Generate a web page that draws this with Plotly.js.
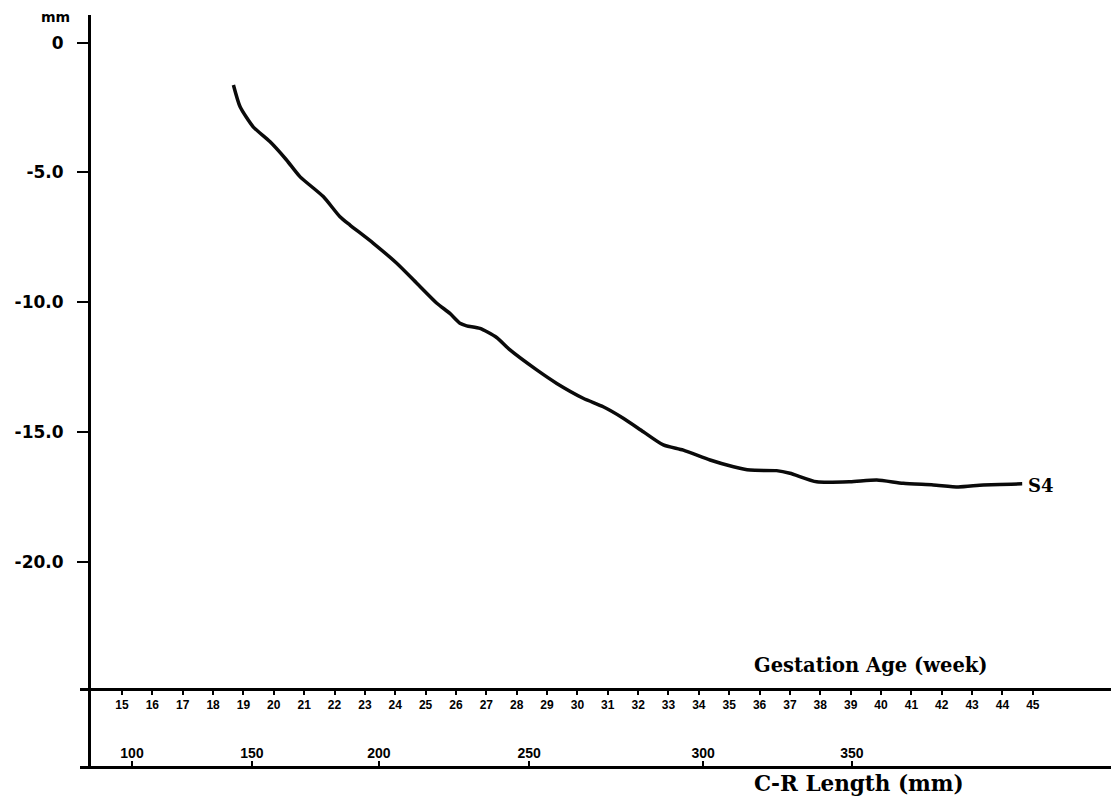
<!DOCTYPE html>
<html>
<head>
<meta charset="utf-8">
<script src="https://cdn.plot.ly/plotly-3.0.1.min.js"></script>
<style>html,body{margin:0;padding:0;background:#fff;}#chart{width:1111px;height:801px;}</style>
</head>
<body>
<div id="chart"></div>
<script>
// Gestation age (weeks) and S4 values (mm)
const weeks = [18.67, 18.89, 19.32, 19.87, 20.42, 20.86, 21.63, 22.18, 22.51, 23.28,
  24.05, 24.71, 25.37, 25.80, 26.13, 26.35, 26.79, 27.34, 27.78, 28.66,
  29.32, 30.19, 30.85, 31.51, 32.17, 32.83, 33.49, 34.37, 35.14, 35.69,
  36.56, 37.00, 37.88, 38.98, 39.86, 40.73, 41.72, 42.55, 43.37, 44.65];
const s4Values = [-1.63, -2.47, -3.24, -3.81, -4.52, -5.16, -5.93, -6.71, -7.03, -7.73,
  -8.50, -9.27, -10.04, -10.43, -10.81, -10.91, -11.01, -11.36, -11.84, -12.61,
  -13.13, -13.70, -14.03, -14.47, -14.99, -15.50, -15.70, -16.08, -16.34, -16.47,
  -16.49, -16.59, -16.92, -16.92, -16.85, -16.98, -17.04, -17.12, -17.04, -17.00];
const seriesName = "S4";

// Axis ticks
const weekTicks = [15,16,17,18,19,20,21,22,23,24,25,26,27,28,29,30,31,32,33,34,35,36,37,38,39,40,41,42,43,44,45];
const weekTickLabels = weekTicks.map(String);
const yTicks = [0, -5, -10, -15, -20];
const yTickLabels = ["0", "-5.0", "-10.0", "-15.0", "-20.0"];
// C-R length ticks, positioned at their corresponding gestation week
const crTickWeeks = [15.33, 19.28, 23.46, 28.41, 34.14, 39.04];
const crTickLabels = ["100", "150", "200", "250", "300", "350"];

const xTitle = "Gestation Age (week)";
const x2Title = "C-R Length (mm)";
const yUnit = "mm";

const W = 1111, H = 801;
const L = 80, T = 15, B = 34, R = 0;
const plotW = W - L - R, plotH = H - T - B;
const yAxisPx = 89;
const weekAxisPx = 689;
const px2paperX = p => (p - L) / plotW;
const px2paperY = p => (H - B - p) / plotH;
const xRange = [13.617, 47.575];

const data = [
  {
    x: weeks, y: s4Values, type: "scatter", mode: "lines",
    line: {color: "#0a0a0a", width: 3.5, shape: "spline", smoothing: 0.6},
    hoverinfo: "skip", showlegend: false, name: seriesName
  },
  { x: [], y: [], xaxis: "x2", yaxis: "y", type: "scatter", showlegend: false }
];

const boldSans = {family: "DejaVu Sans", size: 17, color: "#000", weight: "bold"};

const layout = {
  width: W, height: H,
  margin: {l: L, r: R, t: T, b: B, pad: 0},
  paper_bgcolor: "#fff", plot_bgcolor: "#fff",
  showlegend: false,
  xaxis: {
    range: xRange,
    anchor: "free", position: px2paperY(weekAxisPx),
    showline: true, linewidth: 3, linecolor: "#000",
    showgrid: false, zeroline: false,
    tickmode: "array", tickvals: weekTicks, ticktext: weekTickLabels,
    ticks: "outside", ticklen: 4, tickwidth: 2, tickcolor: "#000",
    tickfont: {family: "Liberation Sans", size: 12, color: "#000", weight: "bold"},
    fixedrange: true
  },
  xaxis2: {
    overlaying: "x",
    range: xRange,
    anchor: "free", position: 0, side: "bottom",
    showline: true, linewidth: 3, linecolor: "#000",
    showgrid: false, zeroline: false,
    tickmode: "array", tickvals: crTickWeeks, ticktext: crTickLabels,
    ticks: "inside", ticklen: 5, tickwidth: 2, tickcolor: "#000",
    ticklabelposition: "inside",
    tickfont: {family: "Liberation Sans", size: 14, color: "#000", weight: "bold"},
    fixedrange: true
  },
  yaxis: {
    range: [-27.91, 1.067],
    anchor: "free", position: px2paperX(yAxisPx),
    showline: true, linewidth: 3, linecolor: "#000",
    showgrid: false, zeroline: false,
    tickmode: "array", tickvals: yTicks, ticktext: yTickLabels,
    ticks: "outside", ticklen: 11, tickwidth: 2, tickcolor: "#000",
    ticklabelstandoff: 10,
    tickfont: boldSans,
    fixedrange: true
  },
  annotations: [
    {text: xTitle, xref: "paper", yref: "paper", x: px2paperX(752), y: px2paperY(665),
     xanchor: "left", yanchor: "middle", showarrow: false,
     font: {family: "DejaVu Serif", size: 19.5, color: "#000", weight: "bold"}},
    {text: x2Title, xref: "paper", yref: "paper", x: px2paperX(752), y: px2paperY(784),
     xanchor: "left", yanchor: "middle", showarrow: false,
     font: {family: "DejaVu Serif", size: 21.5, color: "#000", weight: "bold"}},
    {text: yUnit, xref: "paper", yref: "paper", x: px2paperX(55), y: px2paperY(17),
     xanchor: "center", yanchor: "middle", showarrow: false,
     font: {family: "DejaVu Sans", size: 14, color: "#000", weight: "bold"}},
    {text: seriesName, xref: "x", yref: "y", x: weeks[weeks.length - 1], y: s4Values[s4Values.length - 1],
     xanchor: "left", yanchor: "middle", xshift: 4, yshift: -2, showarrow: false,
     font: {family: "DejaVu Serif", size: 18, color: "#000", weight: "bold"}}
  ]
};

Plotly.newPlot("chart", data, layout, {displayModeBar: false, staticPlot: true});
</script>
</body>
</html>
